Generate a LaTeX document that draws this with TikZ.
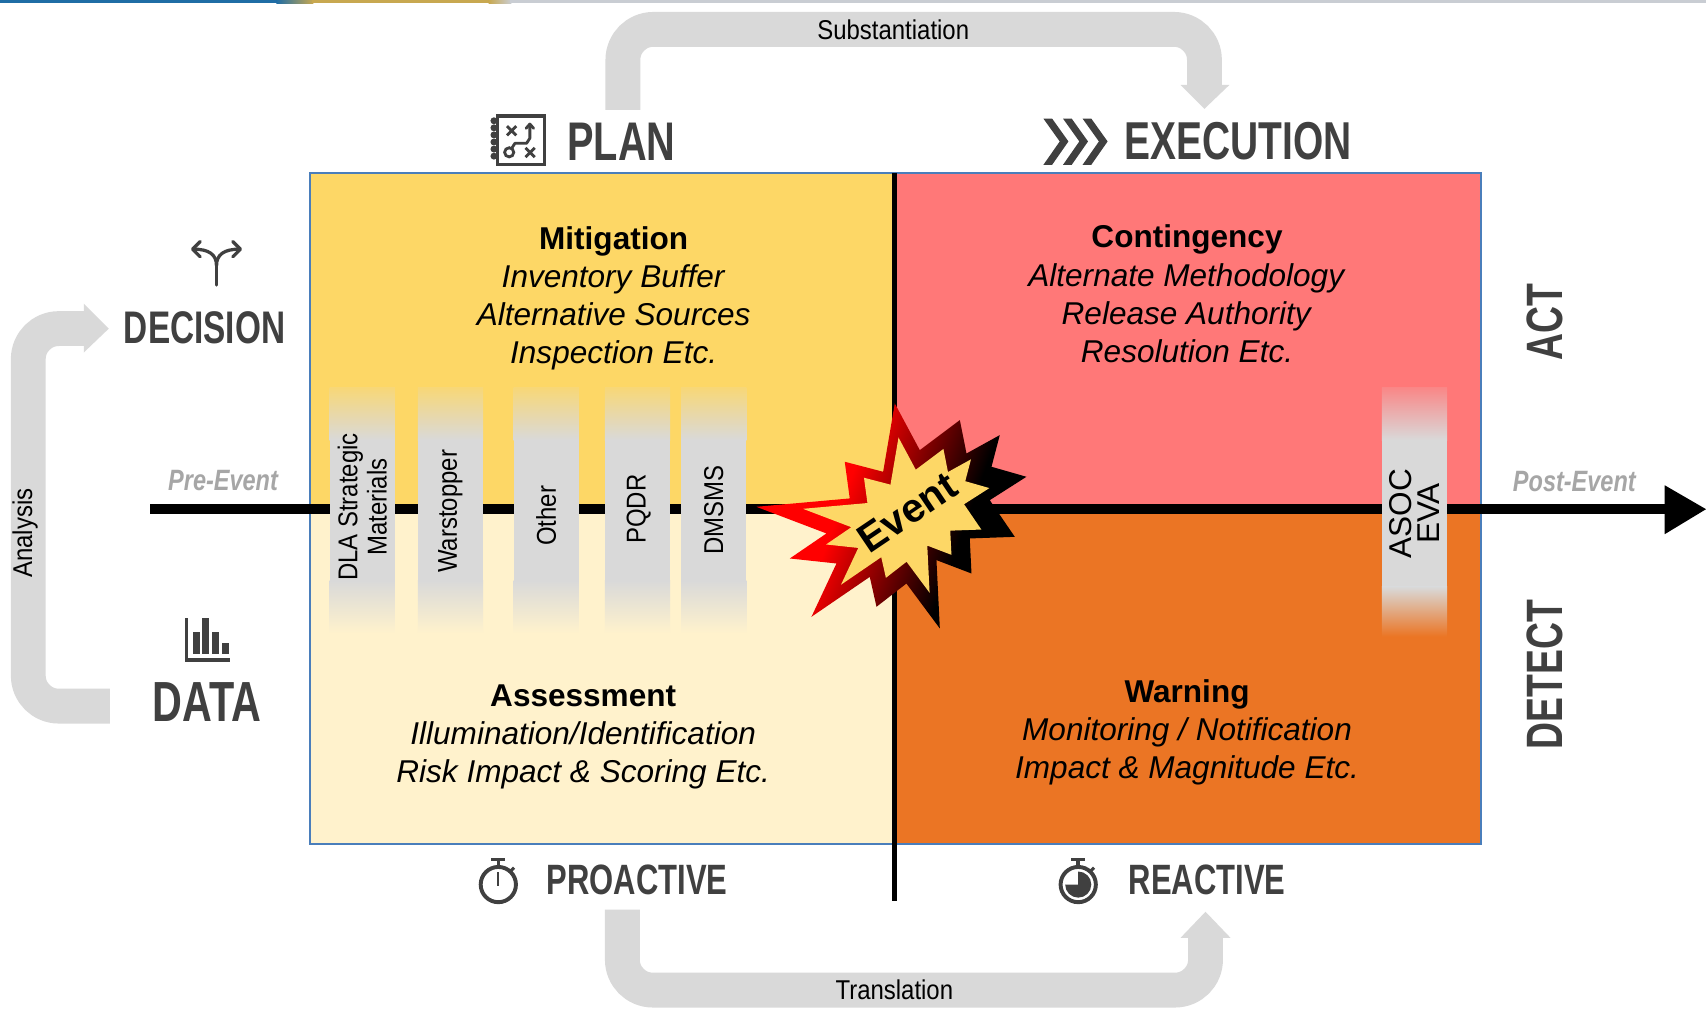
\documentclass[tikz,border=0pt]{standalone}
\usepackage{fontspec}
\setmainfont{Liberation Sans}
\newfontfamily\hdrfam[FakeStretch=0.73]{Liberation Sans}
\newfontfamily\condA[FakeStretch=0.8]{Liberation Sans}
\newfontfamily\condB[FakeStretch=0.88]{Liberation Sans}
\usetikzlibrary{calc}
\definecolor{qyel}{HTML}{FDD766}
\definecolor{qlight}{HTML}{FFF2CC}
\definecolor{qsalmon}{HTML}{FF7878}
\definecolor{qorange}{HTML}{EB7524}
\definecolor{boxblue}{HTML}{4A7EBB}
\definecolor{dkgray}{HTML}{404040}
\definecolor{lgray}{HTML}{D9D9D9}
\definecolor{midgray}{HTML}{A6A6A6}
\definecolor{barg}{HTML}{D9D9D9}
\definecolor{stripblue}{HTML}{1F6DA5}
\definecolor{stripgold}{HTML}{C8A850}
\definecolor{stripgray}{HTML}{C9CDD3}
\definecolor{darkred}{HTML}{8A0000}
\pgfdeclareverticalshading{starshade}{100bp}{color(0bp)=(black); color(36bp)=(black); color(49bp)=(darkred); color(60bp)=(red); color(100bp)=(red)}
\newcommand{\hdrfs}[1]{\hdrfam\bfseries\fontsize{#1}{#1}\selectfont}
\begin{document}
\begin{tikzpicture}[x=0.5pt,y=-0.5pt,
  hdrtxt/.style={inner sep=0pt, text=dkgray},
  quadtxt/.style={align=center, inner sep=0pt, font=\fontsize{14.5}{17.5}\selectfont},
  barlbl/.style={rotate=90, align=center, inner sep=0pt, font=\condB\fontsize{12.5}{13.5}\selectfont},
  band/.style={draw=lgray, line width=16pt, rounded corners=14pt},
  bandhead/.style={fill=lgray},
  icon/.style={draw=dkgray, line width=1.5pt},
  evtxt/.style={inner sep=0pt, text=midgray, font=\condA\bfseries\itshape\fontsize{13.5}{16}\selectfont},
  armtxt/.style={inner sep=0pt, font=\condB\fontsize{12.5}{15}\selectfont}]
\useasboundingbox (0,0) rectangle (1568,926.5);
\fill[white] (0,0) rectangle (1568,926.5);
% top strip
\fill[stripblue] (0,0) rectangle (255,3);
\shade[left color=stripblue, right color=stripgold] (254,0) rectangle (288,3);
\fill[stripgold] (287,0) rectangle (450,3);
\shade[left color=stripgold, right color=stripgray] (449,0) rectangle (470,3);
\fill[stripgray] (469,0) rectangle (1568,3);

% quadrants
\fill[qyel] (285,159) rectangle (822,468);
\fill[qlight] (285,468) rectangle (822,776);
\fill[qsalmon] (822,159) rectangle (1361,468);
\fill[qorange] (822,468) rectangle (1361,776);
\draw[boxblue, line width=1pt] (285,159) rectangle (1361,776);

% time axis
\coordinate (axstart) at (138,468);
\coordinate (axend) at (1532,468);
\draw[black, line width=4.5pt] (axstart) -- (axend);
\fill[black] (1530,446) -- (1568,468) -- (1530,491) -- cycle;
\coordinate (vtop) at (822,159);
\coordinate (vbot) at (822,828);
\draw[black, line width=2.2pt] (vtop) -- (vbot);

% gray bars
\foreach \bx in {333,414,502,586,656}{
  \shade[top color=qyel!85!barg, bottom color=barg] (\bx-30,356) rectangle (\bx+30,404.5);
  \fill[barg] (\bx-30,404) rectangle (\bx+30,534);
  \shade[top color=barg, bottom color=qlight] (\bx-30,533.5) rectangle (\bx+30,582);
}
\shade[top color=qsalmon!85!barg, bottom color=barg] (1270,356) rectangle (1330,404.5);
\fill[barg] (1270,404) rectangle (1330,540);
\shade[top color=barg, bottom color=qorange] (1270,539.5) rectangle (1330,585);

\node[barlbl] (dla) at (333,466) {DLA Strategic\\Materials};
\node[barlbl] (warst) at (414,470) {Warstopper};
\node[barlbl] (other) at (502,474) {Other};
\node[barlbl] (pqdr) at (587,468) {PQDR};
\node[barlbl] (dmsms) at (656,469) {DMSMS};
\node[rotate=90, align=center, inner sep=0pt, font=\fontsize{14.5}{13}\selectfont] (asoc) at (1300,472) {ASOC\\EVA};

% event star
\begin{scope}[shift={(827,475)}]
\shade[shading=starshade, shading angle=70]
 (-131.8,-9.2) -- (-46,-16.9) -- (-50.6,-50.6) -- (-15.3,-41.4) -- (-4.6,-104.2) -- (18.4,-61.3) -- (55.2,-88.9) -- (61.3,-58.2) -- (91.9,-75.1) -- (84.3,-46) -- (116.4,-36.8) -- (82.7,-15.3) -- (105.7,18.4) -- (64.3,19.9) -- (65.9,52.1) -- (33.7,39.8) -- (36.8,102.6) -- (6.1,61.3) -- (-21.4,82.7) -- (-27.6,55.2) -- (-81.2,91.9) -- (-58.2,42.9) -- (-101.1,38.3) -- (-67.4,15.3) -- cycle;
\end{scope}
\begin{scope}[shift={(829,474)}, scale=0.69]
\fill[qyel]
 (-131.8,-9.2) -- (-46,-16.9) -- (-50.6,-50.6) -- (-15.3,-41.4) -- (-4.6,-104.2) -- (18.4,-61.3) -- (55.2,-88.9) -- (61.3,-58.2) -- (91.9,-75.1) -- (84.3,-46) -- (116.4,-36.8) -- (82.7,-15.3) -- (105.7,18.4) -- (64.3,19.9) -- (65.9,52.1) -- (33.7,39.8) -- (36.8,102.6) -- (6.1,61.3) -- (-21.4,82.7) -- (-27.6,55.2) -- (-81.2,91.9) -- (-58.2,42.9) -- (-101.1,38.3) -- (-67.4,15.3) -- cycle;
\end{scope}
\node[rotate=34, inner sep=0pt, font=\bfseries\fontsize{18.5}{18.5}\selectfont] (event) at (834,471) {Event};

% quadrant texts
\node[quadtxt] (mit) at (564,274) {\textbf{Mitigation}\\\textit{Inventory Buffer}\\\textit{Alternative Sources}\\\textit{Inspection Etc.}};
\node[quadtxt] (cont) at (1091,270) {\textbf{Contingency}\\\textit{Alternate Methodology}\\\textit{Release Authority}\\\textit{Resolution Etc.}};
\node[quadtxt] (assess) at (536,677) {\textbf{Assessment}\\\textit{Illumination/Identification}\\\textit{Risk Impact \& Scoring Etc.}};
\node[quadtxt] (warn) at (1091,673) {\textbf{Warning}\\\textit{Monitoring / Notification}\\\textit{Impact \& Magnitude Etc.}};

% headers
\node[hdrtxt, anchor=west, font=\hdrfs{25}] (plan) at (521,130) {PLAN};
\node[hdrtxt, anchor=west, font=\hdrfs{24.5}] (exec) at (1033,130) {EXECUTION};
\node[hdrtxt, font=\hdrfs{21}] (decision) at (188,301) {DECISION};
\node[hdrtxt, font=\hdrfs{26}] (data) at (190,645) {DATA};
\node[hdrtxt, rotate=90, font=\hdrfs{23.5}] (act) at (1420,296) {ACT};
\node[hdrtxt, rotate=90, font=\hdrfs{23.5}] (detect) at (1420,620) {DETECT};
\node[hdrtxt, anchor=west, font=\hdrfs{19.5}] (proactive) at (502,809) {PROACTIVE};
\node[hdrtxt, anchor=west, font=\hdrfs{19.5}] (reactive) at (1037,809) {REACTIVE};
\node[evtxt] (pre) at (205,442) {Pre-Event};
\node[evtxt] (post) at (1447,443) {Post-Event};

% gray arrows
\coordinate (sA) at (572.5,101);
\coordinate (sB) at (572.5,27);
\coordinate (sC) at (1107,27);
\coordinate (sD) at (1107,79);
\draw[band] (sA) -- (sB) -- (sC) -- (sD);
\fill[bandhead] (1085,78) -- (1130,78) -- (1107,100) -- cycle;
\node[armtxt] (subst) at (821,27) {Substantiation};

\coordinate (tA) at (572,836);
\coordinate (tB) at (572,910);
\coordinate (tC) at (1108,910);
\coordinate (tD) at (1108,861);
\draw[band] (tA) -- (tB) -- (tC) -- (tD);
\fill[bandhead] (1085,862) -- (1131,862) -- (1108,838) -- cycle;
\node[armtxt] (transl) at (822,910) {Translation};

\coordinate (aA) at (101,649);
\coordinate (aB) at (26,649);
\coordinate (aC) at (26,302);
\coordinate (aD) at (78,302);
\draw[band] (aA) -- (aB) -- (aC) -- (aD);
\fill[bandhead] (77,279) -- (100,302) -- (77,324) -- cycle;
\node[armtxt, rotate=90] (analysis) at (23,490) {Analysis};

% decision icon
\draw[icon, line cap=round] (199,262) -- (199,244);
\draw[icon, line cap=round] (199,244) .. controls (199,234) and (192,229) .. (178,229);
\draw[icon, line cap=round] (199,244) .. controls (199,234) and (206,229) .. (220,229);
\draw[icon, line cap=round, line join=round] (184,222) -- (177,229) -- (184,236);
\draw[icon, line cap=round, line join=round] (214,222) -- (221,229) -- (214,236);

% data icon
\draw[icon, line width=1.6pt] (171.5,568) -- (171.5,606.5) -- (211,606.5);
\fill[dkgray] (177.6,580.6) rectangle (183.8,601);
\fill[dkgray] (185.4,568.3) rectangle (192.4,601);
\fill[dkgray] (194.5,580.6) rectangle (201.6,601);
\fill[dkgray] (203.7,591.3) rectangle (210.8,601);

% plan icon
\draw[icon] (457.5,106.5) rectangle (500.5,151);
\foreach \yy in {111,117.5,...,148}{\fill[dkgray] (454,\yy) circle (1.6pt);}
\draw[icon, line width=1.3pt] (466,116) -- (474.5,124.5) (466,124.5) -- (474.5,116);
\draw[icon, line width=1.3pt] (483,136) -- (491.5,144.5) (483,144.5) -- (491.5,136);
\draw[icon, line width=1.3pt] (468,140) circle (2.1pt);
\draw[icon, line width=1.3pt, line join=round] (470.5,136) -- (473.3,131.7) -- (484,131.7) -- (487,127) -- (487,114.5);
\draw[icon, line width=1.3pt, line join=round, line cap=round] (483.5,118) -- (487,114) -- (490.5,118);

% execution icon
\foreach \cx in {959,977,995}{
  \fill[dkgray] (\cx,109) -- (\cx+8,109) -- (\cx+23,130) -- (\cx+8,151.5) -- (\cx,151.5) -- (\cx+15,130) -- cycle;
}

% proactive stopwatch
\draw[icon, line width=1.8pt] (458,813) circle (8.1pt);
\draw[icon, line width=1.6pt] (458,797) -- (458,790);
\draw[icon, line width=1.6pt] (451.5,790) -- (464.5,790);
\draw[icon, line width=1.4pt] (469,801) -- (472.5,797.5);
\draw[dkgray, line width=0.9pt] (458,814) -- (458,801);

% reactive stopwatch
\draw[icon, line width=1.8pt] (991,813) circle (8.1pt);
\draw[icon, line width=1.6pt] (991,797) -- (991,790);
\draw[icon, line width=1.6pt] (984.5,790) -- (997.5,790);
\draw[icon, line width=1.4pt] (1002,801) -- (1005.5,797.5);
\fill[dkgray] (991,813) -- (991,801) arc[start angle=90, end angle=-180, radius=6pt] -- cycle;
\end{tikzpicture}
\end{document}
